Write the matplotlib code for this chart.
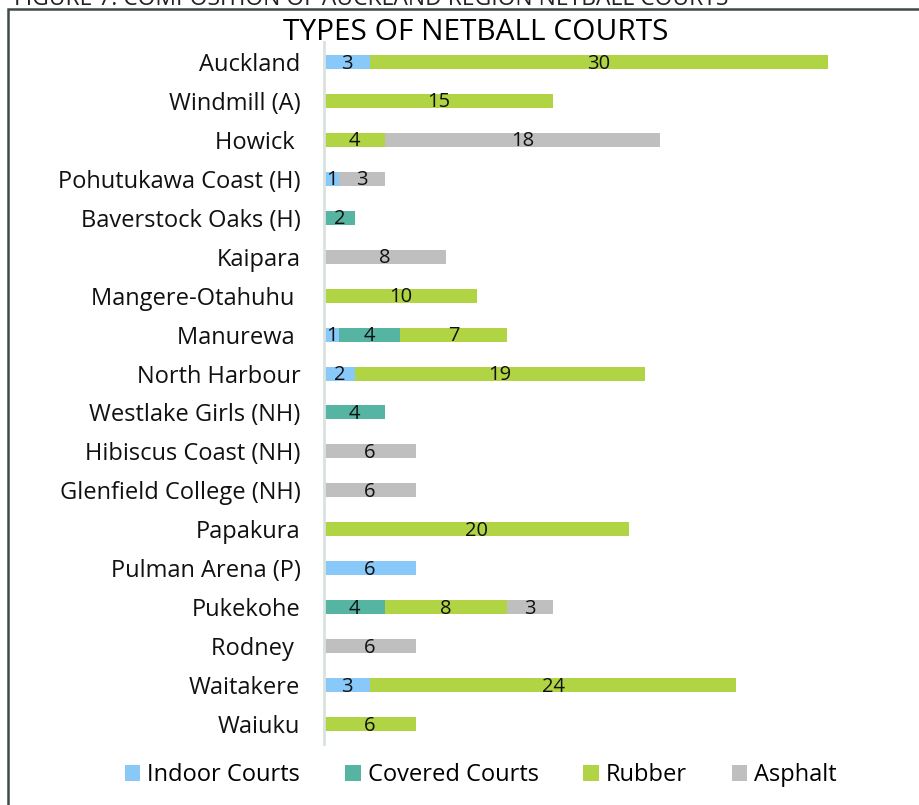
import matplotlib
matplotlib.use("Agg")
import matplotlib.pyplot as plt
from matplotlib.patches import Rectangle
import numpy as np

plt.rcParams['font.family'] = ['Open Sans', 'DejaVu Sans']

categories = ["Auckland", "Windmill (A)", "Howick ", "Pohutukawa Coast (H)", "Baverstock Oaks (H)",
              "Kaipara", "Mangere-Otahuhu ", "Manurewa ", "North Harbour", "Westlake Girls (NH)",
              "Hibiscus Coast (NH)", "Glenfield College (NH)", "Papakura", "Pulman Arena (P)",
              "Pukekohe", "Rodney ", "Waitakere", "Waiuku"]
indoor  = [3, 0, 0, 1, 0, 0, 0, 1, 2, 0, 0, 0, 0, 6, 0, 0, 3, 0]
covered = [0, 0, 0, 0, 2, 0, 0, 4, 0, 4, 0, 0, 0, 0, 4, 0, 0, 0]
rubber  = [30, 15, 4, 0, 0, 0, 10, 7, 19, 0, 0, 0, 20, 0, 8, 0, 24, 6]
asphalt = [0, 0, 18, 3, 0, 8, 0, 0, 0, 0, 6, 6, 0, 0, 3, 6, 0, 0]
series_names = ["Indoor Courts", "Covered Courts", "Rubber", "Asphalt"]
colors = ["#88C9F9", "#55B4A2", "#B1D444", "#BFBFBF"]

W, H = 919, 805
fig = plt.figure(figsize=(W/100, H/100), dpi=100)

# frame
fig.patches.append(Rectangle((8/W, -0.1), 1.2, 1 - 9/H + 0.1, transform=fig.transFigure,
                             fill=False, edgecolor="#3F4A47", linewidth=1.8, zorder=0))
# caption at top (partly cut off, as in the reference)
fig.text(14/W, 1 - 5/H, "FIGURE 7: COMPOSITION OF AUCKLAND REGION NETBALL COURTS",
         fontsize=16.5, va='baseline', ha='left', color='#222222')

ax_left, ax_top, ax_bottom = 324, 42.5, 743.5
ppu = 15.27
xmax = 38
ax = fig.add_axes([ax_left/W, 1 - ax_bottom/H, xmax*ppu/W, (ax_bottom-ax_top)/H])

y = np.arange(len(categories))
left = np.zeros(len(categories))
for vals, name, c in zip([indoor, covered, rubber, asphalt], series_names, colors):
    vals = np.array(vals, dtype=float)
    ax.barh(y, vals, left=left, height=0.36, color=c, label=name)
    for yi, l, v in zip(y, left, vals):
        if v > 0:
            ax.text(l + v/2, yi + 0.04, f"{int(v)}", ha='center', va='center', fontsize=14.5, color='#111111')
    left += vals

ax.set_ylim(len(categories) - 0.5, -0.5)
ax.set_xlim(0, xmax)
ax.set_yticks(y)
ax.set_yticklabels(categories, fontsize=17, color='#111111')
ax.tick_params(axis='y', length=0, pad=17)
ax.set_xticks([])
for s in ['top', 'right', 'bottom']:
    ax.spines[s].set_visible(False)
ax.spines['left'].set_color('#D9E2E0')
ax.spines['left'].set_linewidth(2)

fig.text(476/W, 1 - 33/H, "TYPES OF NETBALL COURTS", ha='center', va='center',
         fontsize=21.5, color='#000000')

handles, labels = ax.get_legend_handles_labels()
fig.legend(handles, labels, loc='center', bbox_to_anchor=(481/W, 1 - 775/H), ncol=4,
           frameon=False, fontsize=17, handlelength=0.65, handleheight=0.65,
           handletextpad=0.3, columnspacing=1.9)

fig.savefig("out.png", dpi=100)
